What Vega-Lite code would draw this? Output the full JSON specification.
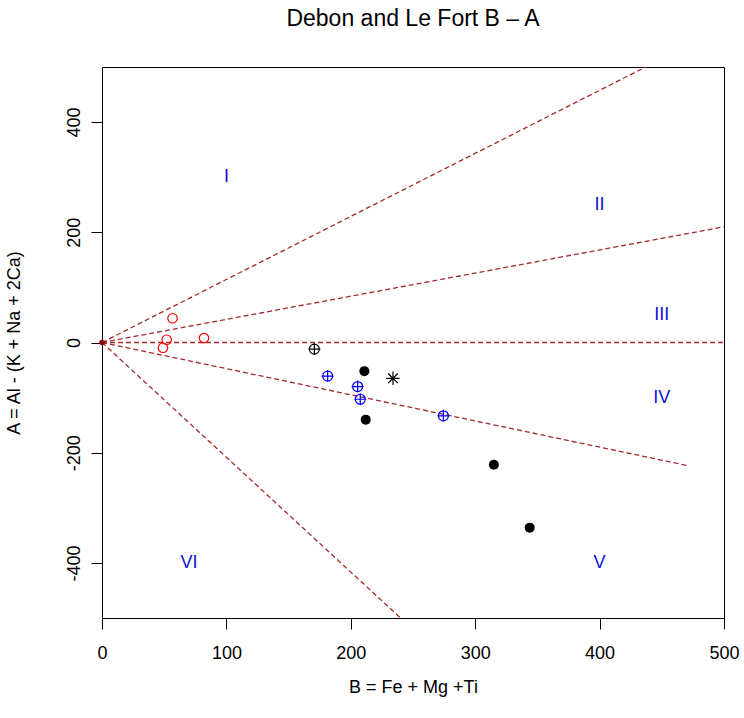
{
  "$schema": "https://vega.github.io/schema/vega-lite/v6.json",
  "autosize": {"type": "none"},
  "padding": {"left": 102, "top": 67, "right": 20, "bottom": 100},
  "width": 622,
  "height": 551,
  "background": "white",
  "title": {"text": "Debon and Le Fort B – A", "fontSize": 23, "font": "Liberation Sans", "fontWeight": "normal", "color": "black", "anchor": "middle", "offset": 36},
  "config": {
    "view": {"stroke": "black", "strokeWidth": 1},
    "axis": {"grid": false, "domainColor": "black", "tickColor": "black", "labelColor": "black", "titleColor": "black", "labelFont": "Liberation Sans", "titleFont": "Liberation Sans", "labelFontSize": 18, "titleFontSize": 18, "titleFontWeight": "normal", "tickSize": 11, "labelFlush": false, "labelOverlap": false}
  },
  "datasets": {
    "lines": [
      {"line": "L1", "B": 0, "A": 0}, {"line": "L1", "B": 437, "A": 500},
      {"line": "L2", "B": 0, "A": 0}, {"line": "L2", "B": 500, "A": 210},
      {"line": "L3", "B": 0, "A": 0}, {"line": "L3", "B": 500, "A": 0},
      {"line": "L4", "B": 0, "A": 0}, {"line": "L4", "B": 472, "A": -224},
      {"line": "L5", "B": 0, "A": 0}, {"line": "L5", "B": 240, "A": -500}
    ],
    "points": [
      {"grp": "origin", "B": 0, "A": 0},
      {"grp": "red", "B": 56.7, "A": 44},
      {"grp": "red", "B": 52, "A": 5},
      {"grp": "red", "B": 82, "A": 8},
      {"grp": "red", "B": 49, "A": -9.5},
      {"grp": "blackplus", "B": 170.7, "A": -12},
      {"grp": "blueplus", "B": 181.4, "A": -61},
      {"grp": "blueplus", "B": 205.5, "A": -80},
      {"grp": "blueplus", "B": 207.6, "A": -103},
      {"grp": "blueplus", "B": 274.4, "A": -133},
      {"grp": "black", "B": 210.9, "A": -52},
      {"grp": "black", "B": 212, "A": -140},
      {"grp": "black", "B": 315, "A": -222},
      {"grp": "black", "B": 343.8, "A": -336},
      {"grp": "star", "B": 233.9, "A": -65}
    ],
    "labels": [
      {"txt": "I", "B": 100, "A": 300},
      {"txt": "II", "B": 400, "A": 250},
      {"txt": "III", "B": 450, "A": 50},
      {"txt": "IV", "B": 450, "A": -100},
      {"txt": "V", "B": 400, "A": -400},
      {"txt": "VI", "B": 70, "A": -400}
    ]
  },
  "layer": [
    {
      "data": {"name": "lines"},
      "mark": {"type": "line", "color": "#a52a2a", "strokeWidth": 1.3, "strokeDash": [5, 3], "clip": true},
      "encoding": {
        "x": {"field": "B", "type": "quantitative", "scale": {"domain": [0, 500], "nice": false, "zero": false},
          "axis": {"values": [0, 100, 200, 300, 400, 500], "title": "B = Fe + Mg +Ti", "labelPadding": 15, "titlePadding": 16}},
        "y": {"field": "A", "type": "quantitative", "scale": {"domain": [-500, 500], "nice": false, "zero": false},
          "axis": {"values": [-400, -200, 0, 200, 400], "title": "A = Al - (K + Na + 2Ca)", "labelExpr": "toString(datum.value)", "labelAngle": -90, "labelAlign": "center", "labelBaseline": "bottom", "labelPadding": 8, "titlePadding": 42}},
        "detail": {"field": "line"}
      }
    },
    {
      "data": {"name": "points"},
      "transform": [{"filter": "datum.grp == 'origin'"}],
      "mark": {"type": "point", "shape": "circle", "filled": true, "color": "#8b0000", "size": 30, "opacity": 1},
      "encoding": {"x": {"field": "B", "type": "quantitative"}, "y": {"field": "A", "type": "quantitative"}}
    },
    {
      "data": {"name": "points"},
      "transform": [{"filter": "datum.grp == 'red'"}],
      "mark": {"type": "point", "shape": "circle", "filled": false, "color": "#ff0000", "size": 90, "strokeWidth": 1.2, "opacity": 1},
      "encoding": {"x": {"field": "B", "type": "quantitative"}, "y": {"field": "A", "type": "quantitative"}}
    },
    {
      "data": {"name": "points"},
      "transform": [{"filter": "datum.grp == 'blackplus'"}],
      "mark": {"type": "point", "shape": "M-1,0A1,1,0,1,1,1,0A1,1,0,1,1,-1,0ZM-1.2,0L1.2,0M0,-1.2L0,1.2", "filled": false, "color": "#000000", "size": 100, "strokeWidth": 1.2, "opacity": 1},
      "encoding": {"x": {"field": "B", "type": "quantitative"}, "y": {"field": "A", "type": "quantitative"}}
    },
    {
      "data": {"name": "points"},
      "transform": [{"filter": "datum.grp == 'blueplus'"}],
      "mark": {"type": "point", "shape": "M-1,0A1,1,0,1,1,1,0A1,1,0,1,1,-1,0ZM-1.2,0L1.2,0M0,-1.2L0,1.2", "filled": false, "color": "#0000ff", "size": 100, "strokeWidth": 1.2, "opacity": 1},
      "encoding": {"x": {"field": "B", "type": "quantitative"}, "y": {"field": "A", "type": "quantitative"}}
    },
    {
      "data": {"name": "points"},
      "transform": [{"filter": "datum.grp == 'black'"}],
      "mark": {"type": "point", "shape": "circle", "filled": true, "color": "#000000", "size": 100, "opacity": 1},
      "encoding": {"x": {"field": "B", "type": "quantitative"}, "y": {"field": "A", "type": "quantitative"}}
    },
    {
      "data": {"name": "points"},
      "transform": [{"filter": "datum.grp == 'star'"}],
      "mark": {"type": "point", "shape": "M-1,0L1,0M0,-1L0,1M-0.72,-0.72L0.72,0.72M-0.72,0.72L0.72,-0.72", "filled": false, "color": "#000000", "size": 180, "strokeWidth": 1.2, "opacity": 1},
      "encoding": {"x": {"field": "B", "type": "quantitative"}, "y": {"field": "A", "type": "quantitative"}}
    },
    {
      "data": {"name": "labels"},
      "mark": {"type": "text", "color": "#1010d0", "font": "Liberation Sans", "fontSize": 18, "align": "center", "baseline": "middle"},
      "encoding": {"x": {"field": "B", "type": "quantitative"}, "y": {"field": "A", "type": "quantitative"}, "text": {"field": "txt"}}
    }
  ]
}
